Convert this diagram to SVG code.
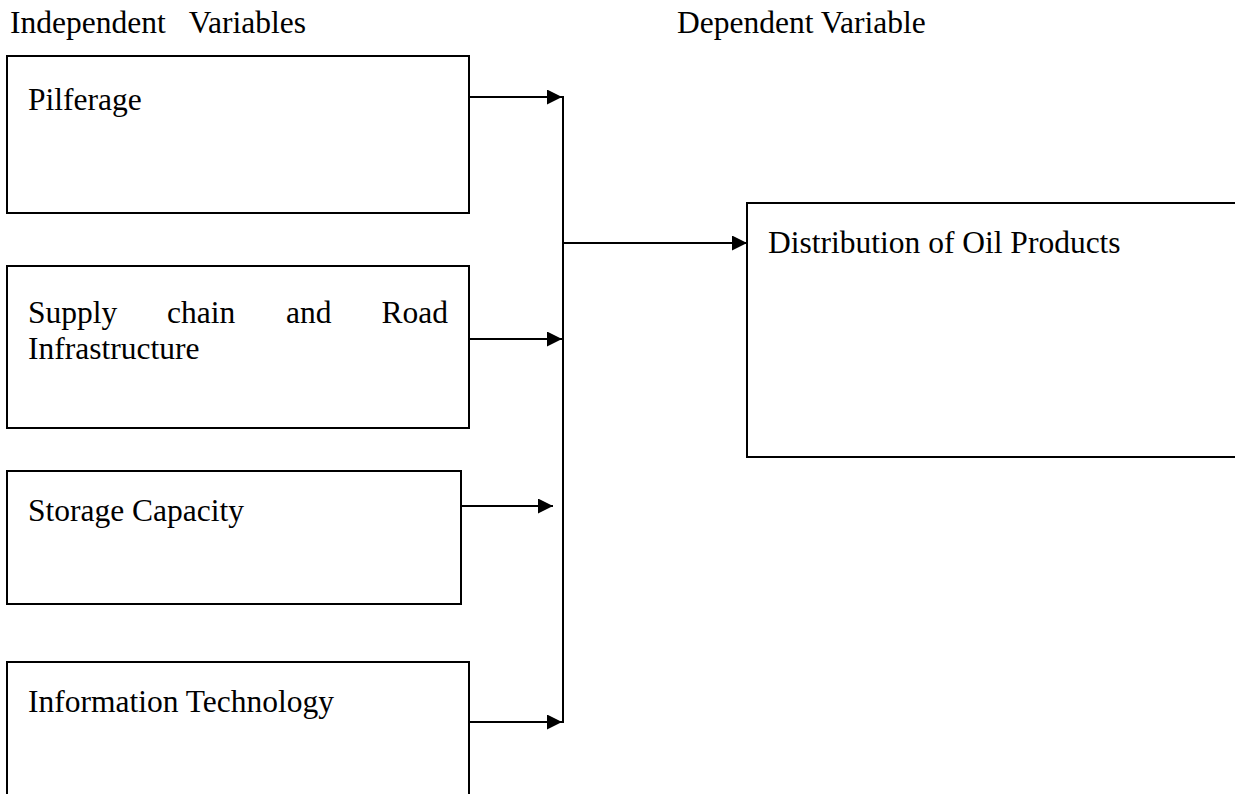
<svg xmlns="http://www.w3.org/2000/svg" width="1235" height="794" viewBox="0 0 1235 794">
  <style>
    text { font-family: "Liberation Serif", "Times New Roman", serif; font-size: 31.5px; fill: #000; }
    .box { fill: #fff; stroke: #000; stroke-width: 2; }
    .conn { fill: none; stroke: #000; stroke-width: 2; }
  </style>
  <defs>
    <marker id="arrow" markerUnits="userSpaceOnUse" markerWidth="15" markerHeight="15" refX="15" refY="7.5" orient="auto">
      <path d="M0,0 L15,7.5 L0,15 z" fill="#000"/>
    </marker>
  </defs>
  <rect width="1235" height="794" fill="#fff"/>

  <text x="10" y="33" xml:space="preserve">Independent   Variables</text>
  <text x="677" y="33">Dependent Variable</text>

  <g id="pilferage">
    <rect class="box" x="7" y="56" width="462" height="157"/>
    <text x="28" y="110">Pilferage</text>
  </g>
  <g id="supply-chain">
    <rect class="box" x="7" y="266" width="462" height="162"/>
    <text x="28" y="323">Supply</text>
    <text x="167" y="323">chain</text>
    <text x="286" y="323">and</text>
    <text x="448" y="323" text-anchor="end">Road</text>
    <text x="28" y="359">Infrastructure</text>
  </g>
  <g id="storage-capacity">
    <rect class="box" x="7" y="471" width="454" height="133"/>
    <text x="28" y="521">Storage Capacity</text>
  </g>
  <g id="information-technology">
    <rect class="box" x="7" y="662" width="462" height="150"/>
    <text x="28" y="712">Information Technology</text>
  </g>
  <g id="distribution">
    <rect class="box" x="747" y="203" width="500" height="254"/>
    <text x="768" y="253">Distribution of Oil Products</text>
  </g>

  <g id="connectors">
    <line class="conn" x1="469" y1="97" x2="562" y2="97" marker-end="url(#arrow)"/>
    <line class="conn" x1="469" y1="339" x2="562" y2="339" marker-end="url(#arrow)"/>
    <line class="conn" x1="461" y1="506" x2="553" y2="506" marker-end="url(#arrow)"/>
    <line class="conn" x1="469" y1="722" x2="562" y2="722" marker-end="url(#arrow)"/>
    <line class="conn" x1="563" y1="96" x2="563" y2="723"/>
    <line class="conn" x1="563" y1="243" x2="747" y2="243" marker-end="url(#arrow)"/>
  </g>
</svg>
